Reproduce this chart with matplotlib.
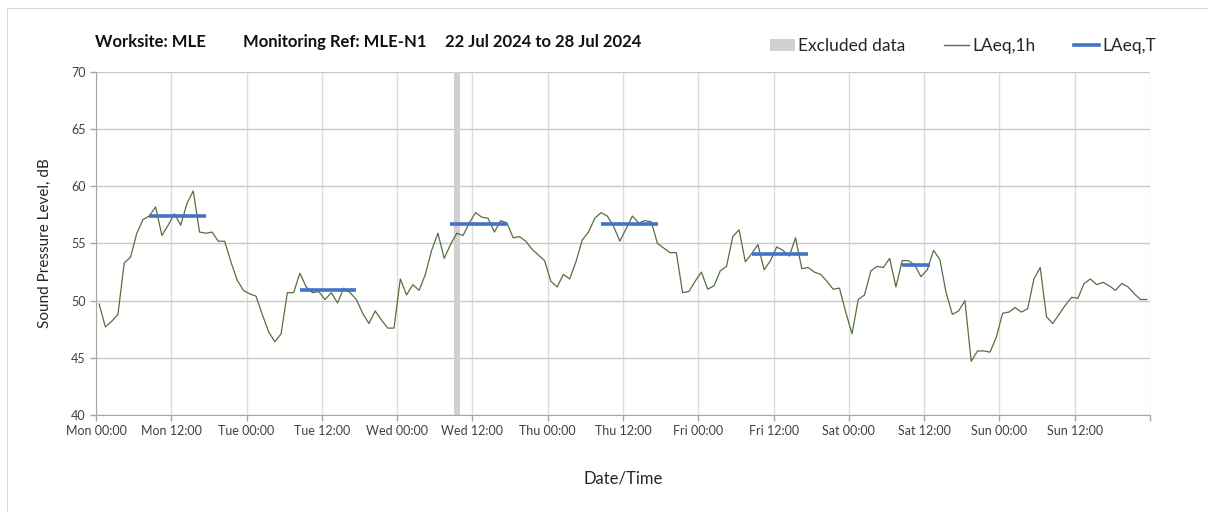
import numpy as np
import matplotlib
matplotlib.use('Agg')
from matplotlib import pyplot as plt
from matplotlib.lines import Line2D
from matplotlib.patches import Patch, Rectangle

plt.rcParams['font.family'] = ['Lato', 'DejaVu Sans']

# hourly LAeq,1h values, Mon 22 Jul 00:00 onwards
laeq_1h = [
    49.7, 47.7, 48.2, 48.8, 53.3, 53.8, 55.9, 57.1, 57.4, 58.2, 55.7, 56.6,
    57.6, 56.6, 58.5, 59.6, 56.0, 55.9, 56.0, 55.2, 55.2, 53.4, 51.8, 50.9,
    50.6, 50.4, 48.8, 47.3, 46.4, 47.1, 50.7, 50.7, 52.4, 51.2, 50.7, 50.8,
    50.1, 50.7, 49.8, 51.1, 50.7, 50.1, 48.9, 48.0, 49.1, 48.3, 47.6, 47.6,
    51.9, 50.5, 51.4, 50.9, 52.3, 54.4, 55.9, 53.7, 54.9, 55.9, 55.7, 56.8,
    57.7, 57.3, 57.2, 56.0, 57.0, 56.8, 55.5, 55.6, 55.2, 54.5, 54.0, 53.5,
    51.7, 51.2, 52.3, 51.9, 53.4, 55.3, 56.0, 57.2, 57.7, 57.4, 56.5, 55.2,
    56.3, 57.4, 56.8, 57.0, 56.9, 55.0, 54.6, 54.2, 54.2, 50.7, 50.8, 51.7,
    52.5, 51.0, 51.3, 52.6, 53.0, 55.6, 56.2, 53.4, 54.1, 54.9, 52.7, 53.5,
    54.7, 54.4, 53.9, 55.5, 52.8, 52.9, 52.5, 52.3, 51.7, 51.0, 51.1, 49.0,
    47.1, 50.1, 50.5, 52.6, 53.0, 52.9, 53.7, 51.2, 53.5, 53.5, 53.1, 52.1,
    52.7, 54.4, 53.6, 50.7, 48.8, 49.1, 50.0, 44.7, 45.6, 45.6, 45.5, 46.8,
    48.9, 49.0, 49.4, 49.0, 49.3, 51.9, 52.9, 48.6, 48.0, 48.8, 49.6, 50.3,
    50.2, 51.5, 51.9, 51.4, 51.6, 51.3, 50.9, 51.5, 51.2, 50.6, 50.1, 50.1,
]

# LAeq,T periods: start hour, end hour, level
period_start = [8, 32, 56, 80, 104, 128]
period_end = [17, 41, 65, 89, 113, 132.5]
period_level = [57.4, 50.9, 56.7, 56.7, 54.1, 53.1]

# excluded hour
excl_start, excl_end = 57, 58

tick_labels = ['Mon 00:00', 'Mon 12:00', 'Tue 00:00', 'Tue 12:00', 'Wed 00:00',
               'Wed 12:00', 'Thu 00:00', 'Thu 12:00', 'Fri 00:00', 'Fri 12:00',
               'Sat 00:00', 'Sat 12:00', 'Sun 00:00', 'Sun 12:00']

hours = np.arange(len(laeq_1h)) + 0.5

fig = plt.figure(figsize=(12.08, 5.12), dpi=100)
fig.patches.append(Rectangle((7 / 1208, 0), 1 - 7 / 1208, 1 - 8 / 512,
                             transform=fig.transFigure, fill=False,
                             edgecolor='#d9d9d9', linewidth=0.8))
ax = fig.add_axes([96 / 1208, 1 - 415 / 512, (1150 - 96) / 1208, (415 - 72) / 512])

ax.axvspan(excl_start, excl_end, color='#d0d0d0', linewidth=0, zorder=1)
ax.plot(hours, laeq_1h, color='#55703f', linewidth=0.9, zorder=3)
for s, e, v in zip(period_start, period_end, period_level):
    ax.plot([s + 0.5, e + 0.5], [v, v], color='#4472c4', linewidth=2.6,
            solid_capstyle='butt', zorder=4)

ax.set_xlim(0, 168)
ax.set_ylim(40, 70)
ax.set_xticks(np.arange(0, 168, 12))
ax.set_xticks([168], minor=True)
ax.set_xticklabels(tick_labels)
ax.set_yticks(np.arange(40, 71, 5))
ax.grid(True, axis='y', color='#c8c8c8', linewidth=1.0, zorder=0)
ax.grid(True, axis='x', which='both', color='#dcdcdc', linewidth=1.0, zorder=0)
ax.set_axisbelow(True)
for sp in ['top', 'right']:
    ax.spines[sp].set_visible(False)
for sp in ['left', 'bottom']:
    ax.spines[sp].set_color('#a6a6a6')
ax.tick_params(axis='both', colors='#a6a6a6', labelcolor='#404040',
               labelsize=9, length=4, width=1)
ax.tick_params(axis='x', which='minor', colors='#a6a6a6', length=4, width=1)

ax.set_ylabel('Sound Pressure Level, dB', fontsize=11, color='#262626', labelpad=14)
ax.set_xlabel('Date/Time', fontsize=12, color='#262626', labelpad=24)

# header, three parts
for xp, txt in [(95, 'Worksite: MLE'), (243, 'Monitoring Ref: MLE-N1'),
                (445, '22 Jul 2024 to 28 Jul 2024')]:
    fig.text(xp / 1208, 1 - 42 / 512, txt, fontsize=12, fontweight='bold',
             color='#111111', va='center', ha='left')

handles = [Patch(facecolor='#d0d0d0', edgecolor='none'),
           Line2D([], [], color='#55703f', linewidth=1.0),
           Line2D([], [], color='#4472c4', linewidth=2.6)]
fig.legend(handles, ['Excluded data', 'LAeq,1h', 'LAeq,T'], ncol=3,
           loc='center right', bbox_to_anchor=(1172 / 1208, 1 - 46 / 512),
           frameon=False, fontsize=12.5, handlelength=1.45, handleheight=0.7,
           handletextpad=0.2, columnspacing=2.2, labelcolor='#262626')

fig.savefig('out.png', dpi=100)
